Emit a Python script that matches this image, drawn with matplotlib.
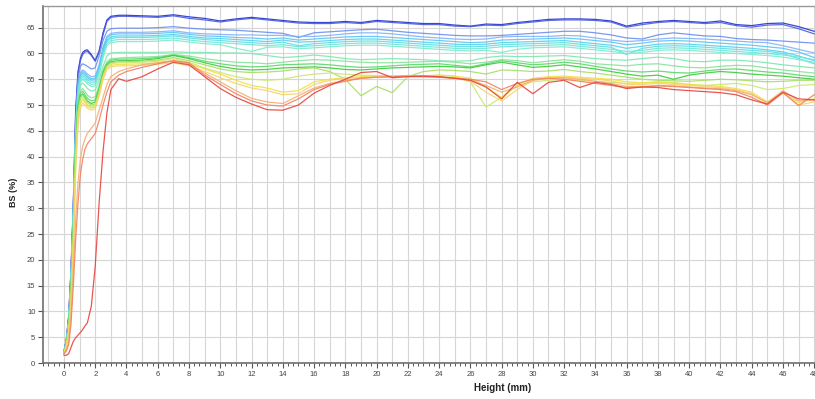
import matplotlib
matplotlib.use("Agg")
import matplotlib.pyplot as plt
from matplotlib.ticker import MultipleLocator

plt.rcParams['font.family'] = ['Liberation Sans', 'DejaVu Sans']

# Measurement heights (mm): dense sampling through the fast rise, then every mm
HEIGHT = [0, 0.15, 0.3, 0.45, 0.6, 0.75, 0.9, 1.05, 1.2, 1.35, 1.5, 1.75,
          2.0, 2.25, 2.5, 2.75, 3.0, 3.5] + list(range(4, 49))

# Backscattering profiles (%), one per scan, first scan first
scan_01 = [2.2, 4.5, 9.0, 18.0, 31.0, 49.0, 56.5, 59.0, 60.2, 60.6, 60.7, 59.8, 58.6, 60.5, 64.0, 66.5, 67.2, 67.4,
           67.4, 67.3, 67.2, 67.5, 67.1, 66.8, 66.3, 66.7, 67.0, 66.7, 66.4, 66.1, 66.0, 66.0, 66.2, 66.0, 66.4, 66.2,
           66.0, 65.8, 65.8, 65.5, 65.3, 65.7, 65.6, 66.0, 66.3, 66.6, 66.7, 66.7, 66.6, 66.3, 65.3, 65.9, 66.2, 66.4,
           66.2, 66.0, 66.3, 65.6, 65.4, 65.8, 65.9, 65.2, 64.3]
scan_02 = [2.2, 4.4, 8.8, 17.5, 30.5, 48.0, 56.0, 58.6, 59.8, 60.3, 60.4, 59.6, 58.5, 60.2, 63.6, 66.2, 67.0, 67.2,
           67.2, 67.1, 67.0, 67.3, 66.8, 66.5, 66.1, 66.5, 66.8, 66.5, 66.2, 65.9, 65.8, 65.8, 66.0, 65.8, 66.2, 66.0,
           65.8, 65.6, 65.6, 65.3, 65.2, 65.5, 65.4, 65.8, 66.1, 66.4, 66.5, 66.5, 66.4, 66.1, 65.1, 65.6, 66.0, 66.2,
           66.0, 65.8, 66.0, 65.4, 65.1, 65.5, 65.6, 64.8, 63.8]
scan_03 = [2.1, 4.3, 8.5, 17.0, 30.0, 47.0, 55.0, 57.5, 58.0, 57.8, 57.5, 57.0, 57.2, 59.5, 62.5, 64.3, 64.8, 64.9,
           64.9, 64.9, 65.0, 65.2, 64.9, 64.7, 64.6, 64.5, 64.3, 64.1, 63.9, 63.1, 64.0, 64.2, 64.4, 64.6, 64.7, 64.4,
           64.1, 63.9, 63.7, 63.5, 63.4, 63.4, 63.5, 63.7, 63.9, 64.1, 64.3, 64.3, 64.0, 63.6, 63.0, 62.8, 63.6, 64.0,
           63.7, 63.4, 63.3, 62.9, 62.7, 62.6, 62.4, 62.2, 62.0]
scan_04 = [2.1, 4.2, 8.3, 16.5, 29.5, 46.0, 54.0, 56.2, 56.8, 56.5, 56.0, 55.5, 55.6, 57.8, 61.2, 63.3, 63.9, 64.1,
           64.1, 64.1, 64.2, 64.4, 64.0, 63.8, 63.7, 63.6, 63.6, 63.5, 63.5, 63.3, 63.3, 63.5, 63.8, 64.0, 64.0, 63.8,
           63.5, 63.2, 63.0, 62.8, 62.7, 62.8, 63.2, 63.3, 63.3, 63.3, 63.5, 63.4, 63.0, 62.6, 62.3, 62.5, 62.8, 63.0,
           62.9, 62.8, 62.6, 62.4, 62.2, 62.1, 61.5, 60.8, 60.1]
scan_05 = [2.0, 4.1, 8.1, 16.2, 29.0, 45.5, 53.6, 55.9, 56.5, 56.1, 55.6, 55.1, 55.2, 57.4, 60.8, 63.0, 63.6, 63.8,
           63.8, 63.8, 63.9, 64.1, 63.7, 63.4, 63.3, 63.1, 63.0, 62.8, 63.0, 62.6, 62.8, 63.0, 63.2, 63.3, 63.3, 63.1,
           62.9, 62.7, 62.5, 62.3, 62.1, 62.2, 62.6, 62.7, 62.8, 62.9, 63.0, 62.8, 62.5, 62.2, 61.7, 62.0, 62.4, 62.5,
           62.4, 62.2, 62.0, 61.8, 61.6, 61.3, 61.0, 60.3, 59.2]
scan_06 = [2.0, 4.0, 8.0, 16.0, 28.8, 45.0, 53.2, 55.6, 56.2, 55.8, 55.3, 54.8, 54.9, 57.0, 60.4, 62.6, 63.2, 63.4,
           63.4, 63.4, 63.5, 63.7, 63.3, 63.0, 62.9, 62.7, 62.5, 62.3, 62.6, 62.2, 62.3, 62.5, 62.7, 62.8, 62.8, 62.6,
           62.4, 62.2, 62.0, 61.8, 61.7, 61.8, 62.1, 62.2, 62.3, 62.4, 62.5, 62.2, 61.9, 61.6, 61.0, 61.4, 61.8, 61.9,
           61.8, 61.6, 61.4, 61.2, 61.0, 60.7, 60.3, 59.5, 58.6]
scan_07 = [2.0, 4.0, 7.9, 15.8, 28.5, 44.6, 52.8, 55.2, 55.8, 55.4, 54.9, 54.4, 54.5, 56.6, 60.0, 62.3, 62.9, 63.1,
           63.1, 63.1, 63.2, 63.4, 63.0, 62.7, 62.5, 62.3, 62.1, 61.9, 62.2, 61.5, 61.9, 62.1, 62.3, 62.4, 62.4, 62.2,
           62.0, 61.8, 61.6, 61.4, 61.3, 61.4, 61.7, 61.8, 61.9, 62.0, 62.1, 61.8, 61.5, 61.2, 59.8, 61.0, 61.4, 61.5,
           61.4, 61.2, 61.0, 60.8, 60.6, 60.4, 60.0, 59.0, 58.0]
scan_08 = [2.0, 3.9, 7.8, 15.5, 28.2, 44.2, 52.4, 54.8, 55.4, 55.0, 54.5, 54.0, 54.1, 56.2, 59.6, 61.9, 62.5, 62.7,
           62.7, 62.7, 62.8, 63.0, 62.6, 62.3, 62.1, 61.9, 61.7, 61.5, 61.7, 61.3, 61.5, 61.7, 61.9, 62.0, 62.0, 61.8,
           61.6, 61.4, 61.2, 61.0, 60.9, 61.0, 61.3, 61.4, 61.5, 61.6, 61.7, 61.4, 61.1, 60.8, 60.4, 60.6, 61.0, 61.1,
           61.0, 60.8, 60.6, 60.4, 60.2, 60.0, 59.7, 59.3, 58.8]
scan_09 = [2.0, 3.9, 7.7, 15.3, 28.0, 43.8, 52.0, 54.4, 55.0, 54.6, 54.1, 53.6, 53.7, 55.8, 59.2, 61.5, 62.1, 62.3,
           62.3, 62.3, 62.4, 62.6, 62.2, 61.9, 61.7, 61.0, 60.4, 61.2, 61.3, 60.9, 61.1, 61.3, 61.5, 61.6, 61.6, 61.4,
           61.2, 61.0, 60.8, 60.6, 60.5, 60.6, 60.2, 60.8, 61.1, 61.2, 61.3, 61.0, 60.7, 60.4, 60.0, 60.2, 60.6, 60.7,
           60.6, 60.4, 60.2, 60.0, 59.8, 59.6, 59.3, 58.8, 58.3]
scan_10 = [2.0, 3.8, 7.5, 15.0, 27.5, 43.0, 51.5, 53.8, 54.3, 53.8, 53.2, 52.7, 52.9, 54.8, 57.5, 59.5, 60.1, 60.2,
           60.2, 60.2, 60.2, 60.3, 60.2, 60.2, 60.1, 60.1, 60.0, 59.6, 59.2, 59.4, 59.7, 59.4, 59.0, 58.8, 58.9, 59.0,
           58.9, 58.8, 58.6, 58.5, 58.6, 59.2, 59.5, 59.4, 59.4, 59.5, 59.6, 59.3, 59.0, 58.8, 58.7, 59.0, 59.3, 59.0,
           58.5, 58.4, 58.7, 58.7, 58.5, 58.2, 57.8, 57.5, 57.2]
scan_11 = [2.0, 3.7, 7.2, 14.5, 26.8, 42.5, 50.5, 52.8, 53.2, 52.6, 51.9, 51.4, 51.6, 53.8, 56.8, 58.4, 59.0, 59.1,
           59.2, 59.3, 59.4, 59.8, 59.5, 59.0, 58.6, 58.3, 58.2, 58.0, 58.3, 58.6, 58.8, 58.7, 58.5, 58.3, 58.2, 58.2,
           58.3, 58.4, 58.5, 58.3, 58.0, 58.3, 58.8, 58.6, 58.2, 58.5, 58.8, 58.5, 58.0, 57.8, 57.6, 57.9, 58.0, 57.6,
           57.3, 57.2, 57.5, 57.7, 57.6, 57.2, 56.8, 56.5, 56.2]
scan_12 = [2.0, 3.6, 7.0, 14.0, 26.2, 42.0, 50.0, 52.3, 52.7, 52.0, 51.3, 50.8, 51.0, 53.3, 56.4, 58.1, 58.7, 58.9,
           58.9, 59.0, 59.2, 59.7, 59.2, 58.5, 58.0, 57.6, 57.4, 57.5, 57.8, 57.9, 58.0, 57.8, 57.5, 57.3, 57.4, 57.6,
           57.8, 57.9, 58.0, 57.7, 57.4, 58.0, 58.6, 58.2, 57.8, 58.0, 58.3, 58.0, 57.5, 57.0, 56.6, 56.4, 56.6, 56.3,
           56.2, 56.6, 56.9, 57.0, 56.7, 56.4, 56.2, 55.8, 55.5]
scan_13 = [1.9, 3.6, 6.8, 13.6, 25.6, 41.4, 49.5, 51.8, 52.2, 51.5, 50.8, 50.3, 50.6, 53.0, 56.1, 57.8, 58.4, 58.6,
           58.6, 58.7, 59.0, 59.6, 59.0, 58.2, 57.5, 57.0, 56.8, 56.9, 57.2, 57.3, 57.4, 57.2, 56.9, 56.8, 57.0, 57.2,
           57.3, 57.4, 57.5, 57.4, 57.2, 57.8, 58.3, 57.8, 57.3, 57.5, 57.8, 57.4, 57.0, 56.5, 56.0, 55.6, 55.8, 55.0,
           55.8, 56.2, 56.5, 56.3, 56.0, 55.8, 55.6, 55.3, 55.0]
scan_14 = [1.9, 3.5, 6.6, 13.2, 25.0, 40.8, 49.0, 51.4, 51.9, 51.2, 50.5, 50.0, 50.2, 52.7, 55.8, 57.6, 58.2, 58.4,
           58.4, 58.5, 58.7, 59.2, 58.6, 57.8, 57.0, 56.5, 56.3, 56.4, 56.6, 57.0, 57.2, 56.5, 55.0, 51.8, 53.6, 52.4,
           55.5, 56.5, 56.8, 56.7, 56.5, 56.0, 56.8, 56.7, 56.5, 56.6, 56.9, 56.5, 56.2, 55.8, 55.4, 55.0, 54.8, 54.7,
           54.6, 54.8, 55.0, 54.9, 54.7, 54.5, 54.6, 54.8, 54.8]
scan_15 = [1.9, 3.4, 6.3, 12.6, 24.2, 40.0, 48.2, 50.8, 51.4, 50.8, 50.1, 49.6, 49.8, 52.3, 55.5, 57.4, 58.0, 58.2,
           58.2, 58.3, 58.5, 59.0, 58.3, 57.2, 56.3, 55.5, 55.0, 54.8, 55.0, 55.6, 56.0, 56.2, 56.0, 55.8, 55.7, 55.6,
           55.6, 55.7, 55.8, 55.6, 54.5, 49.6, 51.5, 53.8, 54.5, 54.8, 55.0, 54.8, 54.6, 54.4, 54.2, 54.3, 54.5, 54.4,
           54.0, 53.8, 54.0, 54.2, 53.8, 53.0, 53.2, 53.8, 54.0]
scan_16 = [1.9, 3.3, 6.0, 12.0, 23.0, 38.5, 47.2, 50.2, 51.0, 50.5, 49.8, 49.4, 49.6, 52.0, 55.2, 57.2, 57.7, 57.9,
           57.9, 58.0, 58.2, 58.5, 58.0, 57.0, 56.0, 54.8, 53.8, 53.3, 52.5, 52.8, 54.5, 55.0, 55.3, 55.5, 55.6, 55.7,
           55.7, 55.6, 55.8, 55.6, 55.2, 53.5, 51.5, 53.8, 55.2, 55.5, 55.6, 55.4, 55.2, 55.0, 54.5, 54.3, 54.4, 54.2,
           54.0, 53.8, 53.6, 53.2, 52.5, 50.6, 52.3, 50.5, 51.2]
scan_17 = [1.8, 3.1, 5.6, 11.2, 21.8, 37.0, 46.0, 49.4, 50.4, 50.0, 49.4, 49.0, 49.3, 51.7, 54.9, 56.9, 57.4, 57.6,
           57.6, 57.7, 57.9, 58.2, 57.6, 56.5, 55.3, 54.2, 53.3, 52.8, 52.0, 52.2, 54.0, 54.8, 55.2, 55.3, 55.4, 55.5,
           55.5, 55.4, 55.5, 55.2, 54.6, 52.5, 50.8, 53.0, 54.8, 55.2, 55.4, 55.2, 55.0, 54.7, 54.0, 54.0, 54.2, 54.0,
           53.8, 53.6, 53.4, 53.0, 52.2, 50.2, 52.6, 50.0, 50.6]
scan_18 = [1.9, 2.5, 4.0, 9.0, 18.0, 28.0, 35.0, 39.5, 42.0, 43.5, 44.5, 45.5, 46.5, 49.0, 51.5, 54.0, 55.5, 56.5,
           57.0, 57.8, 58.2, 58.6, 58.0, 56.2, 54.5, 52.8, 51.3, 50.6, 50.3, 51.8, 53.3, 54.2, 54.8, 55.2, 55.4, 55.5,
           55.6, 55.5, 55.4, 55.2, 54.8, 53.8, 52.5, 53.5, 54.8, 55.2, 55.3, 55.0, 54.6, 54.2, 53.6, 53.6, 53.8, 53.7,
           53.5, 53.3, 53.2, 52.8, 52.0, 50.5, 52.8, 50.8, 51.0]
scan_19 = [1.8, 2.3, 3.5, 7.5, 15.0, 24.0, 31.0, 36.5, 39.5, 41.5, 42.5, 43.5, 44.5, 47.0, 50.0, 52.5, 54.5, 55.8,
           56.5, 57.3, 58.0, 58.6, 58.2, 55.8, 54.0, 52.2, 50.8, 50.0, 49.8, 51.2, 53.0, 54.0, 54.6, 55.2, 55.4, 55.5,
           55.6, 55.6, 55.4, 55.2, 55.0, 54.5, 53.0, 54.2, 55.0, 55.2, 55.0, 54.6, 54.2, 53.8, 53.4, 53.5, 53.7, 53.6,
           53.4, 53.2, 53.0, 52.6, 51.5, 50.0, 52.4, 49.9, 52.0]
scan_20 = [1.5, 1.5, 1.8, 3.0, 4.2, 4.9, 5.4, 5.9, 6.5, 7.2, 7.8, 11.0, 18.7, 31.0, 41.0, 48.5, 53.0, 55.1,
           54.6, 55.5, 57.0, 58.3, 57.8, 55.5, 53.2, 51.5, 50.2, 49.1, 49.0, 50.0, 52.3, 53.8, 55.0, 56.3, 56.5, 55.3,
           55.5, 55.6, 55.5, 55.2, 54.8, 53.5, 51.2, 54.4, 52.2, 54.4, 54.8, 53.4, 54.4, 54.0, 53.2, 53.5, 53.4, 53.0,
           52.8, 52.6, 52.4, 52.0, 51.0, 50.2, 52.5, 51.2, 51.0]

SCANS = [scan_01, scan_02, scan_03, scan_04, scan_05, scan_06, scan_07, scan_08, scan_09, scan_10,
         scan_11, scan_12, scan_13, scan_14, scan_15, scan_16, scan_17, scan_18, scan_19, scan_20]

COLORS = ['#2233cc', '#4a5ae0', '#6c8ff0', '#82b2f6', '#5cc4f2', '#52d2ee', '#60dde4', '#6ee6da',
          '#7aeccc', '#7de8b0', '#86e498', '#5ad868', '#3ccb3a', '#a6de66', '#cbe86e', '#f0e040',
          '#f6d274', '#f6ad72', '#f08260', '#e6443c']

X_TICKS = list(range(0, 49, 2))
Y_TICKS = list(range(0, 70, 5))

fig = plt.figure(figsize=(8.15, 3.99), dpi=100)
ax = fig.add_axes([43 / 815, 36 / 399, 1 - 43 / 815, 357 / 399])

for vals, col in zip(SCANS, COLORS):
    ax.plot(HEIGHT, vals, color=col, lw=0.9, alpha=0.9, solid_joinstyle='round')

ax.set_xlim(-1.34, 48.05)
ax.set_ylim(0, 69.2)

# grid: every mm vertically, every 5 % horizontally
for gx in range(-1, 49):
    ax.axvline(gx, color='#d6d6d6', lw=0.8, zorder=0)
for gy in Y_TICKS:
    ax.axhline(gy, color='#d6d6d6', lw=0.8, zorder=0)

ax.set_xticks(X_TICKS)
ax.set_xticklabels([str(v) for v in X_TICKS])
ax.xaxis.set_minor_locator(MultipleLocator(1 / 3))
ax.set_yticks(Y_TICKS)
ax.set_yticklabels([str(v) for v in Y_TICKS])

ax.tick_params(axis='both', which='major', direction='out', length=3.5, width=0.8,
               color='#555555', labelsize=5.5, labelcolor='#444444', pad=2)
ax.tick_params(axis='x', which='minor', direction='out', length=2.2, width=0.7, color='#555555')

for side in ('left', 'bottom'):
    ax.spines[side].set_color('#6e6e6e')
    ax.spines[side].set_linewidth(1.2)
ax.spines['top'].set_color('#9a9a9a')
ax.spines['top'].set_linewidth(1.0)
ax.spines['right'].set_visible(False)

fig.text(503 / 815, 1 - 388 / 399, 'Height (mm)', ha='center', va='center',
         fontsize=7, fontweight='bold', color='#222222')
fig.text(13 / 815, 1 - 192 / 399, 'BS (%)', ha='center', va='center', rotation=90,
         fontsize=6.5, fontweight='bold', color='#222222')

fig.savefig('out.png', dpi=100, facecolor='white')
